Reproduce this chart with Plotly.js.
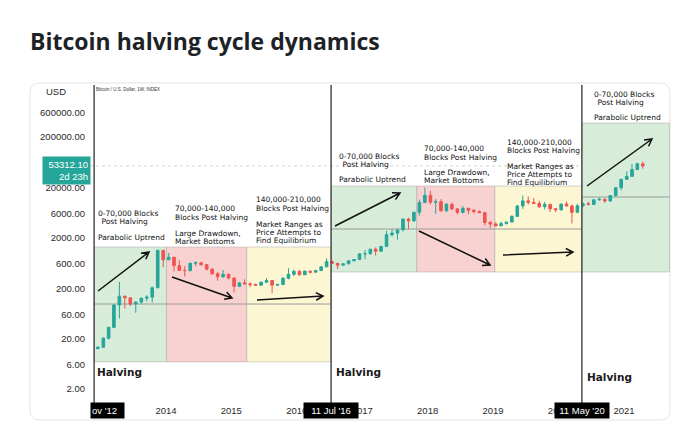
<!DOCTYPE html>
<html>
<head>
<meta charset="utf-8">
<script src="https://cdn.plot.ly/plotly-3.0.1.min.js"></script>
<style>
html,body{margin:0;padding:0;background:#fff;}
#chart{width:700px;height:443px;}
</style>
</head>
<body>
<div id="chart"></div>
<script>
// ---- data (monthly candles, Bitcoin / U.S. Dollar index) ----
const months = [
"2012-12",
"2013-01","2013-02","2013-03","2013-04","2013-05","2013-06","2013-07","2013-08","2013-09","2013-10","2013-11","2013-12",
"2014-01","2014-02","2014-03","2014-04","2014-05","2014-06","2014-07","2014-08","2014-09","2014-10","2014-11","2014-12",
"2015-01","2015-02","2015-03","2015-04","2015-05","2015-06","2015-07","2015-08","2015-09","2015-10","2015-11","2015-12",
"2016-01","2016-02","2016-03","2016-04","2016-05","2016-06","2016-07","2016-08","2016-09","2016-10","2016-11","2016-12",
"2017-01","2017-02","2017-03","2017-04","2017-05","2017-06","2017-07","2017-08","2017-09","2017-10","2017-11","2017-12",
"2018-01","2018-02","2018-03","2018-04","2018-05","2018-06","2018-07","2018-08","2018-09","2018-10","2018-11","2018-12",
"2019-01","2019-02","2019-03","2019-04","2019-05","2019-06","2019-07","2019-08","2019-09","2019-10","2019-11","2019-12",
"2020-01","2020-02","2020-03","2020-04","2020-05","2020-06","2020-07","2020-08","2020-09","2020-10","2020-11","2020-12",
"2021-01","2021-02","2021-03","2021-04"
];
const openP = [
12.6,
13.5,20.4,33.4,93,139,129,97,106,127,133,204,1129,
732,820,560,450,447,628,640,585,478,387,338,378,
320,218,254,244,236,230,263,284,230,236,314,377,
430,369,437,416,448,530,673,624,573,608,700,742,
963,965,1190,1080,1348,2300,2480,2870,4700,4340,6440,10000,
13850,10200,10400,6900,9240,7500,6390,7730,7030,6630,6300,4040,
3740,3460,3830,4100,5320,8560,10800,10080,9600,8300,9200,7550,
7200,9350,8540,6420,8630,9450,9140,11350,11650,10780,13800,19700,
29000,33100,45200,58800
];
const highP = [
13.9,
20.9,33.5,95,266,140,129,111,128,145,215,1163,1150,
1000,840,715,550,630,680,655,600,495,415,460,385,
320,265,300,260,248,268,318,285,245,335,500,465,
460,445,440,467,545,780,705,626,625,720,752,975,
1150,1200,1290,1350,2760,2980,2900,4800,5000,6450,11400,19700,
17200,11800,11700,9750,9990,7770,8480,7760,7400,7000,6550,4300,
4100,4200,4120,5600,9000,13800,13200,12300,10900,10350,9500,7750,
9600,10500,9200,9450,10070,10400,11450,12470,12050,14100,19800,29300,
41950,58350,61800,64800
];
const lowP = [
12.4,
13.2,19.1,33,50,79,89,65,98,110,105,199,520,
730,430,440,340,430,550,565,450,370,280,320,300,
165,210,240,210,225,220,255,160,225,236,300,350,
355,365,395,415,440,530,605,480,570,605,680,740,
750,935,890,1060,1340,2130,1840,2680,2970,4100,5500,10700,
9200,6000,6600,6450,7050,5780,6120,5880,6100,6200,3500,3150,
3350,3400,3700,4080,5300,7500,9100,9400,7750,7300,6550,6450,
6900,8450,3850,6150,8100,8900,8950,10950,9850,10400,13200,17600,
28100,32300,44900,47000
];
const closeP = [
13.5,
20.4,33.4,93,139,129,97,106,127,133,204,1129,732,
820,560,450,447,628,640,585,478,387,338,378,320,
218,254,244,236,230,263,284,230,236,314,377,430,
369,437,416,448,530,673,624,573,608,700,742,963,
965,1190,1080,1348,2300,2480,2870,4700,4340,6440,10000,13850,
10200,10400,6900,9240,7500,6390,7730,7030,6630,6300,4040,3740,
3460,3830,4100,5320,8560,10800,10080,9600,8300,9200,7550,7200,
9350,8540,6420,8630,9450,9140,11350,11650,10780,13800,19700,29000,
33100,45200,58800,53312.1
];
const lastPrice = 53312.1;
const yTickVals = [2,6,20,60,200,600,2000,6000,20000,200000,600000];
const yTickText = ["2.00","6.00","20.00","60.00","200.00","600.00","2000.00","6000.00","20000.00","200000.00","600000.00"];
const xTickVals = ["2014-01-01","2015-01-01","2016-01-01","2017-01-01","2018-01-01","2019-01-01","2020-01-01","2021-01-01"];
const xTickText = ["2014","2015","2016","2017","2018","2019","2020","2021"];
const halvingDates = ["2012-11-26","2016-07-11","2020-05-11"];
const halvingLabels = ["ov '12","11 Jul '16","11 May '20"];

// ---- geometry helpers (pixel -> paper) ----
const L=90, R=670, T=85, B=403;
const px = x => (x-L)/(R-L);
const py = y => (B-y)/(B-T);
const lg = v => Math.log10(v);

const shapes = [];
// card outline
(function(){
  const x0=30,x1=670,y0=83,y1=420,r=10;
  const p=(x,y)=>px(x)+','+py(y);
  shapes.push({type:'path',xref:'paper',yref:'paper',layer:'below',
    path:`M${p(x0+r,y0)} L${p(x1-r,y0)} Q${p(x1,y0)} ${p(x1,y0+r)} L${p(x1,y1-r)} Q${p(x1,y1)} ${p(x1-r,y1)} L${p(x0+r,y1)} Q${p(x0,y1)} ${p(x0,y1-r)} L${p(x0,y0+r)} Q${p(x0,y0)} ${p(x0+r,y0)} Z`,
    line:{color:'#e3e3e3',width:1},fillcolor:'rgba(0,0,0,0)'});
})();

// phase boxes (shape coordinates on log axis are given in price units)
const GREEN='#d7ecd9', RED='#f8d2d1', YEL='#fcf6d3';
const boxes = [
  ['2012-11-26','2014-01-04',6.9,1313,GREEN],
  ['2014-01-04','2015-03-28',6.9,1313,RED],
  ['2015-03-28','2016-07-11',6.9,1313,YEL],
  ['2016-07-11','2017-11-02',419,21300,GREEN],
  ['2017-11-02','2019-01-11',419,21300,RED],
  ['2019-01-11','2020-05-11',419,21300,YEL],
  ['2020-05-11','2021-09-12',419,379000,GREEN]
];
boxes.forEach(b=>shapes.push({type:'rect',xref:'x',yref:'y',layer:'below',
  x0:b[0],x1:b[1],y0:b[2],y1:b[3],fillcolor:b[4],
  line:{color:'rgba(140,140,140,0.35)',width:1}}));

// baselines of each cycle
const bases = [['2012-11-26','2016-07-11',97],['2016-07-11','2020-05-11',2990],['2020-05-11','2021-09-12',12900]];
bases.forEach(b=>shapes.push({type:'line',xref:'x',yref:'y',layer:'below',
  x0:b[0],x1:b[1],y0:b[2],y1:b[2],line:{color:'#9a9a9a',width:1}}));

// last price line
shapes.push({type:'line',xref:'paper',yref:'y',layer:'below',x0:0,x1:1,y0:lastPrice,y1:lastPrice,
  line:{color:'#d3d3d3',width:1,dash:'dot'}});

// halving lines
halvingDates.forEach(d=>shapes.push({type:'line',xref:'x',yref:'paper',x0:d,x1:d,y0:0,y1:1,
  line:{color:'#4d4d4d',width:1.5}}));

// arrows (pixel tail -> head)
const arrows = [
  [98,291,149,252],[172,277,232,298],[257,300,323,296],
  [335,226,400,193],[419,231,490,265],[503,255,573,252],
  [587,186,652,139]
];
arrows.forEach(a=>{
  const [x1,y1,x2,y2]=a;
  const ang=Math.atan2(y2-y1,x2-x1), h=8, w=0.5;
  const hx1=x2-h*Math.cos(ang-w), hy1=y2-h*Math.sin(ang-w);
  const hx2=x2-h*Math.cos(ang+w), hy2=y2-h*Math.sin(ang+w);
  shapes.push({type:'path',xref:'paper',yref:'paper',
    path:`M${px(x1)},${py(y1)} L${px(x2)},${py(y2)} M${px(hx1)},${py(hy1)} L${px(x2)},${py(y2)} L${px(hx2)},${py(hy2)}`,
    line:{color:'#111',width:1.5}});
});

// ---- annotations ----
const annotations = [];
const TXT = {family:'DejaVu Sans',size:7.5,color:'#111'};
const labels = [
  ["0-70,000 Blocks",96,213],[" Post Halving",97,221],["Parabolic Uptrend",96,237],
  ["70,000-140,000",173,208],["Blocks Post Halving",173,217],["Large Drawdown,",173,233],["Market Bottoms",173,241],
  ["140,000-210,000",254,199],["Blocks Post Halving",254,208],["Market Ranges as",254,224],["Price Attempts to",254,232],["Find Equilibrium",254,240],
  ["0-70,000 Blocks",337,156],[" Post Halving",338,164],["Parabolic Uptrend",337,179],
  ["70,000-140,000",422,148],["Blocks Post Halving",422,157],["Large Drawdown,",422,172],["Market Bottoms",422,180],
  ["140,000-210,000",505,142],["Blocks Post Halving",505,150],["Market Ranges as",505,166],["Price Attempts to",505,174],["Find Equilibrium",505,182],
  ["0-70,000 Blocks",592,94],[" Post Halving",593,102],["Parabolic Uptrend",592,117]
];
labels.forEach(l=>annotations.push({xref:'paper',yref:'paper',x:px(l[1]),y:py(l[2]),xanchor:'left',yanchor:'middle',
  text:l[0],showarrow:false,font:TXT}));
[[95,372],[334,372],[585,377]].forEach(p=>annotations.push({xref:'paper',yref:'paper',x:px(p[0]),y:py(p[1]),
  xanchor:'left',yanchor:'middle',text:'Halving',showarrow:false,
  font:{family:'DejaVu Sans',size:10.5,weight:700,color:'#1a1a1a'}}));

// halving date boxes on the time axis
annotations.push({xref:'paper',yref:'paper',x:0,y:0,xanchor:'left',yanchor:'top',yshift:1,
  text:halvingLabels[0],showarrow:false,bgcolor:'#000',width:31,height:13,borderpad:1,align:'left',
  font:{family:'Liberation Sans',size:9.5,color:'#fff'}});
[1,2].forEach(i=>annotations.push({xref:'x',yref:'paper',x:halvingDates[i],y:0,xanchor:'center',yanchor:'top',yshift:1,
  text:halvingLabels[i],showarrow:false,bgcolor:'#000',width:52,height:13,borderpad:1,
  font:{family:'Liberation Sans',size:9.5,color:'#fff'}}));

// last price tag
annotations.push({xref:'paper',yref:'y',x:px(91),y:lg(lastPrice),xanchor:'right',yanchor:'middle',yshift:-5,
  text:'53312.10<br>2d 23h',align:'right',showarrow:false,bgcolor:'#26a69a',width:43,borderpad:2,
  font:{family:'Liberation Sans',size:9.5,color:'#fff'}});
// currency and symbol captions
annotations.push({xref:'paper',yref:'paper',x:px(68),y:py(91),xanchor:'right',yanchor:'middle',text:'USD',showarrow:false,
  font:{family:'Liberation Sans',size:9.5,color:'#2a2a2a'}});
annotations.push({xref:'paper',yref:'paper',x:px(94),y:py(89),xanchor:'left',yanchor:'middle',
  text:'Bitcoin / U.S. Dollar, 1W, INDEX',showarrow:false,font:{family:'Liberation Sans',size:4.5,color:'#333'}});

const trace = {
  type:'candlestick', x:months, open:openP, high:highP, low:lowP, close:closeP,
  xperiod:'M1', xperiodalignment:'middle',
  increasing:{line:{color:'#26a69a',width:1},fillcolor:'#26a69a'},
  decreasing:{line:{color:'#ef5350',width:1},fillcolor:'#ef5350'},
  whiskerwidth:0, hoverinfo:'skip', showlegend:false
};

const layout = {
  width:700, height:443,
  margin:{l:L,r:700-R,t:T,b:443-B,pad:0},
  paper_bgcolor:'#fff', plot_bgcolor:'rgba(0,0,0,0)',
  title:{text:'Bitcoin halving cycle dynamics',x:30/700,xanchor:'left',xref:'container',
    y:1-42/443,yanchor:'middle',yref:'container',
    font:{family:'Open Sans',size:23,weight:700,color:'#1d2226'}},
  xaxis:{type:'date',range:['2012-11-03','2021-09-15'],tickvals:xTickVals,ticktext:xTickText,
    showgrid:false,zeroline:false,showline:false,ticks:'',rangeslider:{visible:false},
    tickfont:{family:'Liberation Sans',size:9.5,color:'#2a2a2a'},ticklabelstandoff:0},
  yaxis:{type:'log',range:[0.023,6.333],tickvals:yTickVals,ticktext:yTickText,side:'left',
    showgrid:false,zeroline:false,showline:false,ticks:'',
    tickfont:{family:'Liberation Sans',size:9.5,color:'#2a2a2a'},ticklabelstandoff:4},
  shapes:shapes, annotations:annotations, showlegend:false
};
Plotly.newPlot('chart',[trace],layout,{staticPlot:true,displayModeBar:false});
</script>
</body>
</html>
